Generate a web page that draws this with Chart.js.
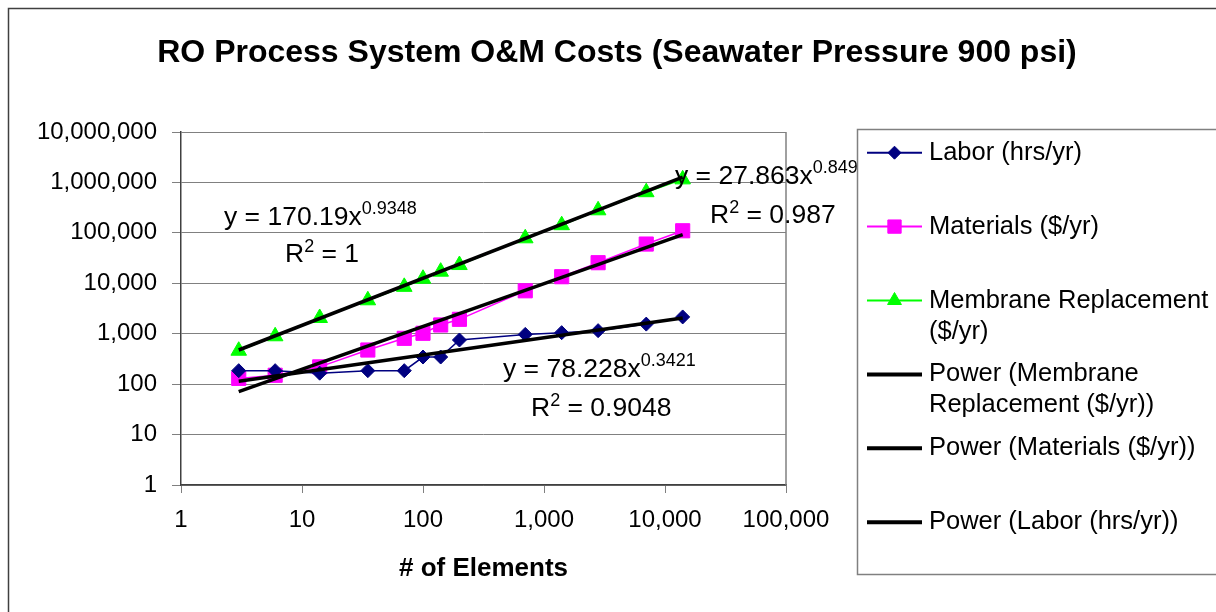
<!DOCTYPE html>
<html><head><meta charset="utf-8">
<script src="https://cdn.jsdelivr.net/npm/chart.js@4/dist/chart.umd.min.js"></script>
<style>html,body{margin:0;padding:0;background:#fff;overflow:hidden}#wrap{width:1216px;height:612px;position:relative}</style>
</head><body><div id="wrap"><canvas id="c" width="1216" height="612"></canvas></div>
<script>
// ---- data ----
const elements  = [3, 6, 14, 35, 70, 100, 140, 200, 700, 1400, 2800, 7000, 14000];
const labor     = [185, 185, 165, 185, 185, 345, 345, 750, 970, 1050, 1150, 1550, 2150];
const materials = [130, 150, 220, 475, 810, 1020, 1490, 1930, 7100, 13500, 25600, 60000, 110000];
const membrane  = [460, 890, 2050, 4600, 8500, 12300, 17000, 23000, 78000, 142000, 280000, 640000, 1150000];
const yTickValues = [1, 10, 100, 1000, 10000, 100000, 1000000, 10000000];
const xTickValues = [1, 10, 100, 1000, 10000, 100000];
const seriesNames = ['Labor (hrs/yr)', 'Materials ($/yr)', 'Membrane Replacement ($/yr)'];
const trendNames  = ['Power (Membrane Replacement ($/yr))', 'Power (Materials ($/yr))', 'Power (Labor (hrs/yr))'];
// power trendlines y = a * x^b as printed on the chart (membrane, materials, labor)
const trendCoefA = [170.19, 27.863, 78.228];
const trendExpB  = [0.9348, 0.849, 0.3421];
const trendA_txt = ['170.19', '27.863', '78.228'];
const trendB_txt = ['0.9348', '0.849', '0.3421'];
const trendR2_txt = ['1', '0.987', '0.9048'];
const titleText = 'RO Process System O&M Costs (Seawater Pressure 900 psi)';
const xTitleText = '# of Elements';

const FONT = "'Liberation Sans', Arial, Helvetica, sans-serif";
Chart.defaults.font.family = FONT;

const toPts = (ys) => elements.map((x, i) => ({x: x, y: ys[i]}));
const trendPts = (k) => {
  const xs = [elements[0], elements[elements.length - 1]];
  return xs.map(x => ({x: x, y: trendCoefA[k] * Math.pow(x, trendExpB[k])}));
};

const datasets = [
  {label: seriesNames[0], data: toPts(labor), borderColor: '#000080', backgroundColor: '#000080',
   pointStyle: 'rectRot', pointRadius: 7, pointBorderWidth: 1, borderWidth: 1.5, showLine: true, order: 1},
  {label: seriesNames[1], data: toPts(materials), borderColor: '#FF00FF', backgroundColor: '#FF00FF',
   pointStyle: 'rect', pointRadius: 10, pointBorderWidth: 1, borderWidth: 1.5, showLine: true, order: 1},
  {label: seriesNames[2], data: toPts(membrane), borderColor: '#00FF00', backgroundColor: '#00FF00',
   pointStyle: 'triangle', pointRadius: 9, pointBorderWidth: 1, borderWidth: 1.5, showLine: true, order: 1},
  {label: trendNames[0], data: trendPts(0), borderColor: '#000000', backgroundColor: '#000000',
   pointRadius: 0, borderWidth: 3.5, showLine: true, order: 0},
  {label: trendNames[1], data: trendPts(1), borderColor: '#000000', backgroundColor: '#000000',
   pointRadius: 0, borderWidth: 3.5, showLine: true, order: 0},
  {label: trendNames[2], data: trendPts(2), borderColor: '#000000', backgroundColor: '#000000',
   pointRadius: 0, borderWidth: 3.5, showLine: true, order: 0}
];

function drawRich(ctx, x, y, parts, size, supSize, supRise) {
  let cx = x;
  parts.forEach(p => {
    if (p.sup) {
      ctx.font = supSize + 'px ' + FONT;
      ctx.fillText(p.t, cx, y - supRise);
    } else {
      ctx.font = size + 'px ' + FONT;
      ctx.fillText(p.t, cx, y);
    }
    cx += ctx.measureText(p.t).width;
  });
}

const decorPlugin = {
  id: 'decor',
  beforeDraw(chart) {
    const ctx = chart.ctx;
    ctx.save();
    ctx.fillStyle = '#fff';
    ctx.fillRect(0, 0, chart.width, chart.height);
    // outer chart border (extends beyond the cropped view)
    ctx.strokeStyle = '#404040';
    ctx.lineWidth = 1.5;
    ctx.beginPath();
    ctx.moveTo(8.5, chart.height + 5);
    ctx.lineTo(8.5, 8.5);
    ctx.lineTo(chart.width + 5, 8.5);
    ctx.stroke();
    // title
    ctx.fillStyle = '#000';
    ctx.font = 'bold 32px ' + FONT;
    ctx.textAlign = 'center';
    ctx.textBaseline = 'alphabetic';
    ctx.fillText(titleText, 617, 62);
    ctx.restore();
  },
  afterDatasetsDraw(chart) {
    const ctx = chart.ctx, a = chart.chartArea;
    ctx.save();
    // plot area right border
    ctx.strokeStyle = '#808080';
    ctx.lineWidth = 1.5;
    ctx.beginPath();
    ctx.moveTo(a.right, a.top);
    ctx.lineTo(a.right, a.bottom);
    ctx.stroke();
    // trendline equations
    ctx.fillStyle = '#000';
    ctx.textAlign = 'left';
    ctx.textBaseline = 'alphabetic';
    const eqPos = [[224, 225, 285, 262], [675, 184, 710, 223], [503, 377, 531, 416]];
    for (let k = 0; k < 3; k++) {
      const p = eqPos[k];
      drawRich(ctx, p[0], p[1], [{t: 'y = ' + trendA_txt[k] + 'x'}, {t: trendB_txt[k], sup: true}], 26.5, 18, 11);
      drawRich(ctx, p[2], p[3], [{t: 'R'}, {t: '2', sup: true}, {t: ' = ' + trendR2_txt[k]}], 26.5, 18, 10);
    }
    // x axis title
    ctx.font = 'bold 26px ' + FONT;
    ctx.textAlign = 'center';
    ctx.fillText(xTitleText, (a.left + a.right) / 2, 576);
    ctx.restore();
  },
  afterDraw(chart) {
    const ctx = chart.ctx;
    ctx.save();
    const L = 857, T = 129, B = 574;
    ctx.fillStyle = '#fff';
    ctx.fillRect(L, T, chart.width - L + 10, B - T);
    ctx.strokeStyle = '#808080';
    ctx.lineWidth = 1.5;
    ctx.strokeRect(L + 0.5, T + 0.5, chart.width - L + 10, B - T);
    const ds = chart.data.datasets;
    ctx.font = '25.5px ' + FONT;
    ctx.textBaseline = 'middle';
    ctx.textAlign = 'left';
    const textX = 929, maxW = 285;
    ds.forEach((d, i) => {
      const cy = T + 23.7 + i * 73.9;
      ctx.strokeStyle = d.borderColor;
      ctx.lineWidth = d.pointRadius ? 2 : 4;
      ctx.beginPath();
      ctx.moveTo(867, cy);
      ctx.lineTo(922, cy);
      ctx.stroke();
      if (d.pointRadius) {
        ctx.fillStyle = d.backgroundColor;
        ctx.strokeStyle = d.borderColor;
        ctx.lineWidth = 1;
        const r = d.pointStyle === 'rect' ? 9.4 : (d.pointStyle === 'triangle' ? 8 : 6.5);
        Chart.helpers.drawPoint(ctx, {pointStyle: d.pointStyle, radius: r, rotation: 0, borderWidth: 1}, 894.5, cy);
      }
      // word-wrap label
      ctx.fillStyle = '#000';
      ctx.font = '25.5px ' + FONT;
      const words = d.label.split(' ');
      const lines = [];
      let cur = '';
      words.forEach(w => {
        const test = cur ? cur + ' ' + w : w;
        if (ctx.measureText(test).width > maxW && cur) { lines.push(cur); cur = w; } else { cur = test; }
      });
      lines.push(cur);
      lines.forEach((ln, j) => ctx.fillText(ln, textX, cy + j * 31));
    });
    ctx.restore();
  }
};

new Chart(document.getElementById('c'), {
  type: 'scatter',
  data: {datasets: datasets},
  options: {
    responsive: false,
    animation: false,
    events: [],
    layout: {padding: {top: 132, right: 1216 - 786, left: 0, bottom: 0}},
    plugins: {legend: {display: false}, title: {display: false}, tooltip: {enabled: false}},
    scales: {
      x: {
        type: 'logarithmic', min: 1, max: 100000,
        afterBuildTicks: s => { s.ticks = xTickValues.map(v => ({value: v})); },
        afterFit: s => { s.height = 127; },
        ticks: {autoSkip: false, maxRotation: 0, minRotation: 0, padding: 13, color: '#000',
                font: {size: 24, family: FONT}, callback: v => Number(v).toLocaleString('en-US')},
        grid: {display: true, drawOnChartArea: false, drawTicks: true, tickLength: 8, color: '#808080', lineWidth: 1},
        border: {display: true, color: '#404040', width: 1.5}
      },
      y: {
        type: 'logarithmic', min: 1, max: 10000000,
        afterBuildTicks: s => { s.ticks = yTickValues.map(v => ({value: v})); },
        afterFit: s => { s.width = 181; },
        ticks: {autoSkip: false, padding: 15, color: '#000',
                font: {size: 24, family: FONT}, callback: v => Number(v).toLocaleString('en-US')},
        grid: {display: true, drawTicks: true, tickLength: 9, color: '#808080', lineWidth: 1},
        border: {display: true, color: '#404040', width: 1.5}
      }
    }
  },
  plugins: [decorPlugin]
});
</script>
</body></html>
